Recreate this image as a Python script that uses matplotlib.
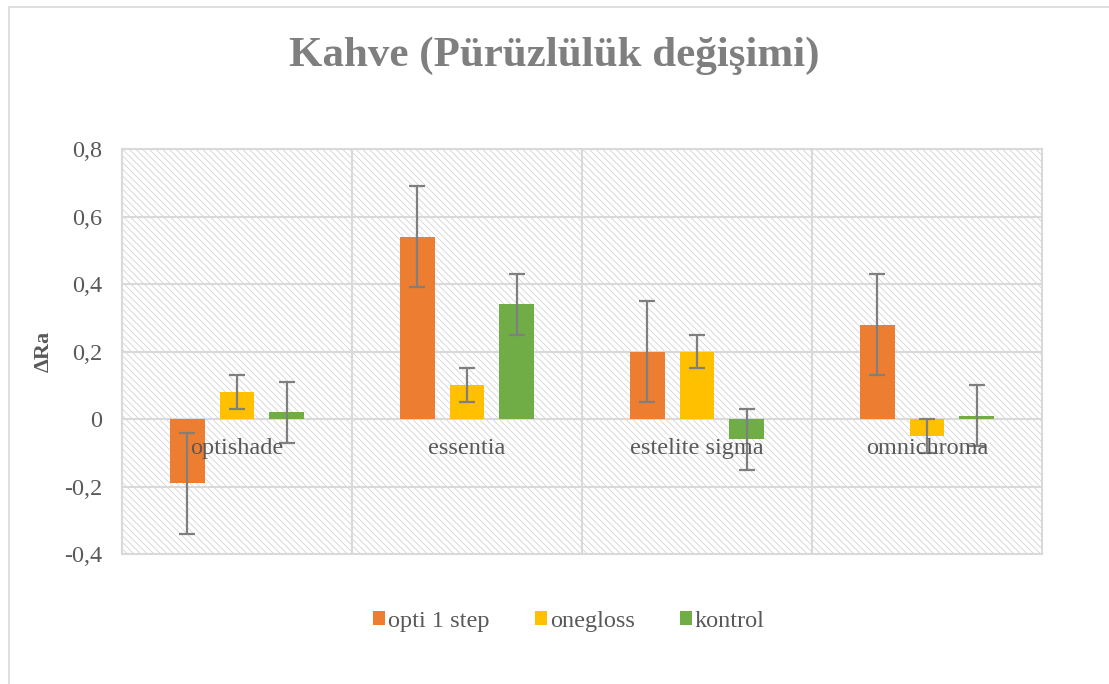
import matplotlib
matplotlib.use("Agg")
import matplotlib.pyplot as plt
import numpy as np
from matplotlib.patches import Rectangle
from matplotlib.patches import Patch
import matplotlib.transforms as mtransforms

categories = ["optishade", "essentia", "estelite sigma", "omnichroma"]
series_names = ["opti 1 step", "onegloss", "kontrol"]
opti_vals = [-0.19, 0.54, 0.20, 0.28]
onegloss_vals = [0.08, 0.10, 0.20, -0.05]
kontrol_vals = [0.02, 0.34, -0.06, 0.01]
opti_err = [0.15, 0.15, 0.15, 0.15]
onegloss_err = [0.05, 0.05, 0.05, 0.05]
kontrol_err = [0.09, 0.09, 0.09, 0.09]
yticks = [-0.4, -0.2, 0, 0.2, 0.4, 0.6, 0.8]
ytick_labels = ["-0,4", "-0,2", "0", "0,2", "0,4", "0,6", "0,8"]

colors = ["#ED7D31", "#FFC000", "#70AD47"]
txt = "#595959"
grid_c = "#D9D9D9"

plt.rcParams["font.family"] = ["Liberation Serif", "DejaVu Serif"]
plt.rcParams["hatch.color"] = "#D0D0D0"
plt.rcParams["hatch.linewidth"] = 0.55

fig = plt.figure(figsize=(11.09, 6.84), dpi=100)
ax = fig.add_axes([0.110, 0.190, 0.8296, 0.592])

# outer chart border
fig.patches.append(Rectangle((9 / 1109, -0.1), 1.2, 1 - 7 / 684 + 0.1, transform=fig.transFigure,
                             fill=False, edgecolor=grid_c, linewidth=1.2, zorder=0))

# hatched plot background
ax.add_patch(Rectangle((0, 0), 1, 1, transform=ax.transAxes, facecolor="white",
                       edgecolor="#D0D0D0", hatch="\\\\\\\\\\", linewidth=0, zorder=0))

x = np.arange(len(categories))
width = 0.152
offset = 0.217
vals = [opti_vals, onegloss_vals, kontrol_vals]
errs = [opti_err, onegloss_err, kontrol_err]
for i, (v, e, c) in enumerate(zip(vals, errs, colors)):
    ax.bar(x + (i - 1) * offset, v, width, color=c, zorder=3, label=series_names[i])
    ax.errorbar(x + (i - 1) * offset, v, yerr=e, fmt="none", ecolor="#7F7F7F",
                elinewidth=1.6, capsize=6, capthick=1.6, zorder=4)

ax.set_xlim(-0.5, len(categories) - 0.5)
ax.set_ylim(-0.4, 0.8)
ax.set_yticks(yticks)
ax.set_yticklabels(ytick_labels, fontsize=17.5, color=txt)
ax.set_xticks([])
ax.set_xticks(np.arange(len(categories) - 1) + 0.5, minor=True)
ax.tick_params(axis="x", which="both", length=0, labelbottom=False)
ax.tick_params(axis="y", length=0, pad=14)
ax.grid(axis="y", color=grid_c, linewidth=1.5, zorder=1)
ax.grid(axis="x", which="minor", color=grid_c, linewidth=1.5, zorder=1)
for s in ax.spines.values():
    s.set_color(grid_c)
    s.set_linewidth(1.5)

# category labels beside the zero line
trans = mtransforms.offset_copy(ax.transData, fig=fig, x=0, y=-29, units="dots")
for xi, name in zip(x, categories):
    ax.text(xi, 0, name, transform=trans, ha="center", va="center", fontsize=17.5,
            color=txt, zorder=5)

ax.set_ylabel("ΔRa", fontsize=16, fontweight="bold", color=txt)
ax.yaxis.set_label_coords(-0.074, 0.5)

fig.text(0.5, 0.918, "Kahve (Pürüzlülük değişimi)", ha="center", va="center",
         fontsize=31, fontweight="bold", color="#7F7F7F")

handles = [Patch(facecolor=c, edgecolor="none") for c in colors]
fig.legend(handles, series_names, loc="center", bbox_to_anchor=(0.513, 0.092), ncol=3,
           frameon=False, fontsize=17.5, labelcolor=txt, handlelength=0.5, handleheight=0.5,
           handletextpad=0.12, columnspacing=1.85)

fig.savefig("out.png", dpi=100)
